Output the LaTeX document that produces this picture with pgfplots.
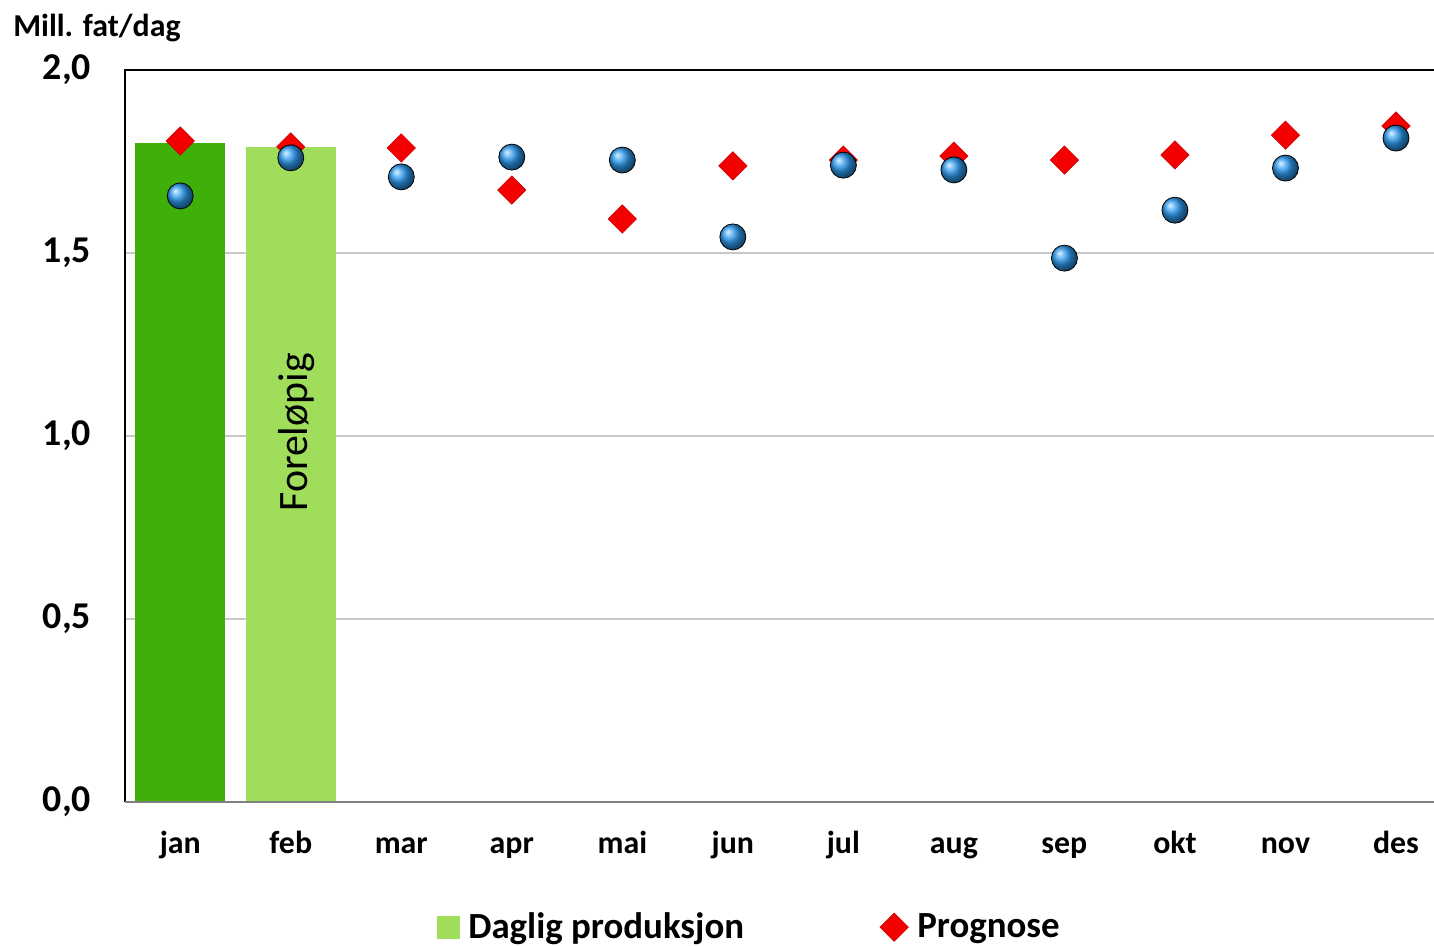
\documentclass[border=0pt]{standalone}
\usepackage{pgfplots}
\pgfplotsset{compat=1.18}
\usepackage{fontspec}
\setmainfont{Carlito}
\definecolor{dkgreen}{RGB}{63,175,10}
\definecolor{ltgreen}{RGB}{160,221,90}
\definecolor{myred}{RGB}{245,0,0}
\definecolor{myblue}{RGB}{45,155,240}
\definecolor{gridgray}{RGB}{200,200,200}
\begin{document}
\begin{tikzpicture}
\begin{axis}[
  scale only axis, width=654.5bp, height=366bp,
  xmin=-0.5, xmax=11.344, ymin=0, ymax=2,
  axis line style={draw=none},
  major tick length=0pt,
  xtick={0,...,11},
  xticklabels={jan,feb,mar,apr,mai,jun,jul,aug,sep,okt,nov,des},
  ytick={0,0.5,1,1.5,2},
  ymajorgrids, grid style={gridgray, line width=0.8bp},
  /pgf/number format/.cd, fixed, fixed zerofill, precision=1, use comma, assume math mode=true,
  /pgfplots/.cd,
  yticklabel style={font=\bfseries\fontsize{19}{19}\selectfont, xshift=-13.5bp},
  xticklabel style={font=\bfseries\fontsize{16}{16}\selectfont, anchor=base, yshift=-25.5bp},
  clip=false,
  legend columns=2,
  legend style={draw=none, fill=none, font=\bfseries\fontsize{18.5}{18.5}\selectfont,
    at={(rel axis cs:0.2383,-0.171)}, anchor=west, inner sep=0pt,
    /tikz/every odd column/.append style={column sep=2.5bp},
    /tikz/every even column/.append style={column sep=66bp}},
]
\addplot[ybar, bar width=0.815, bar shift=0pt, fill=dkgreen, draw=none, forget plot] coordinates {(0,1.80)};
\addplot[ybar, bar width=0.815, bar shift=0pt, fill=ltgreen, draw=none, forget plot] coordinates {(1,1.79)};
\addlegendimage{only marks, mark=square*, mark size=5.5bp, color=ltgreen}
\addlegendentry{Daglig produksjon}
\addplot[only marks, mark=square*, mark size=5bp, mark options={rotate=45, fill=myred, draw=red!80!black, line width=0.3bp}] coordinates {
(0,1.806) (1,1.79) (2,1.787) (3,1.672) (4,1.593) (5,1.738) (6,1.754) (7,1.765) (8,1.754) (9,1.768) (10,1.822) (11,1.847)};
\addlegendentry{Prognose}
\addplot[only marks, mark=ball, mark size=6.5bp, mark options={ball color=myblue, draw=none}, forget plot] coordinates {
(0,1.656) (1,1.76) (2,1.708) (3,1.762) (4,1.754) (5,1.544) (6,1.74) (7,1.727) (8,1.486) (9,1.617) (10,1.732) (11,1.814)};
\draw[black, line width=1.2bp] (rel axis cs:0,0) -- (rel axis cs:0,1) -- (rel axis cs:1,1);
\draw[gray, line width=1.2bp] (rel axis cs:0,0) -- (rel axis cs:1,0);
\node[rotate=90, font=\fontsize{21}{21}\selectfont] at (axis cs:1.05,1.01) {Foreløpig};
\node[anchor=west, font=\bfseries\fontsize{16}{16}\selectfont, inner sep=0pt] at (rel axis cs:-0.0856,1.057) {Mill. fat/dag};
\end{axis}
\pgfresetboundingbox
\path (-62.5bp,-72bp) rectangle (654.5bp,401bp);
\end{tikzpicture}
\end{document}
